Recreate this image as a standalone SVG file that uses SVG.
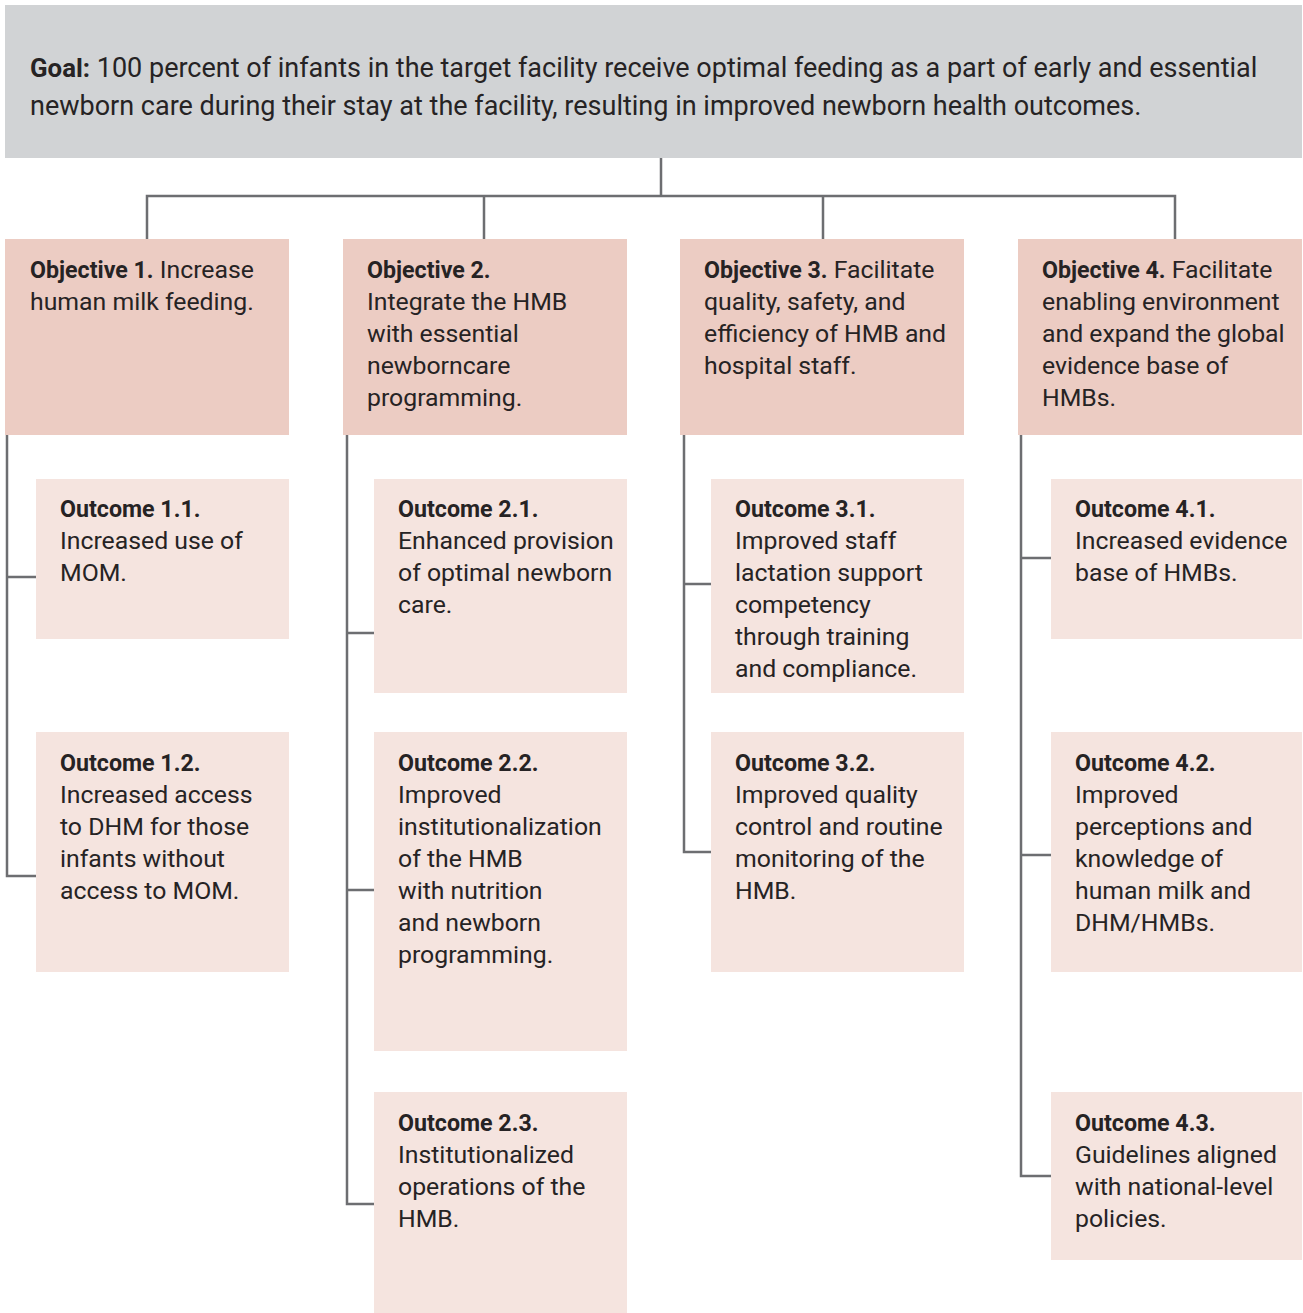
<svg xmlns="http://www.w3.org/2000/svg" width="1303" height="1313" viewBox="0 0 1303 1313">
<style>
text{font-family:Roboto,"Liberation Sans",sans-serif;fill:#262324;}
.g{font-size:27px;}
.g .b{font-size:25.8px;}
.t{font-size:24.8px;}
.t .b,.t.b{font-size:23.2px;}
.b{font-weight:700;}
.obj{fill:#ecccc3;}
.out{fill:#f5e4df;}
.goal{fill:#d1d3d5;}
.c{fill:none;stroke:#6d6e71;stroke-width:2.5;}
</style>
<rect width="1303" height="1313" fill="#fff"/>
<g id="connectors">
<path class="c" d="M661,158V196M147,239V196H1175V239M484,196V239M823,196V239"/>
<path class="c" d="M7,435V876H36M7,577H36"/>
<path class="c" d="M347,435V1204H374M347,633H374M347,890H374"/>
<path class="c" d="M684,435V852H711M684,584H711"/>
<path class="c" d="M1021,435V1176H1051M1021,558H1051M1021,855H1051"/>
</g>
<g id="goal">
<rect class="goal" x="5" y="5" width="1297" height="153"/>
<text class="g" x="30" y="77"><tspan class="b">Goal:</tspan> 100 percent of infants in the target facility receive optimal feeding as a part of early and essential</text>
<text class="g" x="30" y="115">newborn care during their stay at the facility, resulting in improved newborn health outcomes.</text>
</g>
<g id="objective1">
<rect class="obj" x="5" y="239" width="284" height="196"/>
<text class="t" x="30" y="278"><tspan class="b">Objective 1.</tspan> Increase</text>
<text class="t" x="30" y="310">human milk feeding.</text>
</g>
<g id="objective2">
<rect class="obj" x="343" y="239" width="284" height="196"/>
<text class="t" x="367" y="278"><tspan class="b">Objective 2.</tspan></text>
<text class="t" x="367" y="310">Integrate the HMB</text>
<text class="t" x="367" y="342">with essential</text>
<text class="t" x="367" y="374">newborncare</text>
<text class="t" x="367" y="406">programming.</text>
</g>
<g id="objective3">
<rect class="obj" x="680" y="239" width="284" height="196"/>
<text class="t" x="704" y="278"><tspan class="b">Objective 3.</tspan> Facilitate</text>
<text class="t" x="704" y="310">quality, safety, and</text>
<text class="t" x="704" y="342">efficiency of HMB and</text>
<text class="t" x="704" y="374">hospital staff.</text>
</g>
<g id="objective4">
<rect class="obj" x="1018" y="239" width="284" height="196"/>
<text class="t" x="1042" y="278"><tspan class="b">Objective 4.</tspan> Facilitate</text>
<text class="t" x="1042" y="310">enabling environment</text>
<text class="t" x="1042" y="342">and expand the global</text>
<text class="t" x="1042" y="374">evidence base of</text>
<text class="t" x="1042" y="406">HMBs.</text>
</g>
<g id="outcome1-1">
<rect class="out" x="36" y="479" width="253" height="160"/>
<text class="t b" x="60" y="517">Outcome 1.1.</text>
<text class="t" x="60" y="549">Increased use of</text>
<text class="t" x="60" y="581">MOM.</text>
</g>
<g id="outcome1-2">
<rect class="out" x="36" y="732" width="253" height="240"/>
<text class="t b" x="60" y="771">Outcome 1.2.</text>
<text class="t" x="60" y="803">Increased access</text>
<text class="t" x="60" y="835">to DHM for those</text>
<text class="t" x="60" y="867">infants without</text>
<text class="t" x="60" y="899">access to MOM.</text>
</g>
<g id="outcome2-1">
<rect class="out" x="374" y="479" width="253" height="214"/>
<text class="t b" x="398" y="517">Outcome 2.1.</text>
<text class="t" x="398" y="549">Enhanced provision</text>
<text class="t" x="398" y="581">of optimal newborn</text>
<text class="t" x="398" y="613">care.</text>
</g>
<g id="outcome2-2">
<rect class="out" x="374" y="732" width="253" height="319"/>
<text class="t b" x="398" y="771">Outcome 2.2.</text>
<text class="t" x="398" y="803">Improved</text>
<text class="t" x="398" y="835">institutionalization</text>
<text class="t" x="398" y="867">of the HMB</text>
<text class="t" x="398" y="899">with nutrition</text>
<text class="t" x="398" y="931">and newborn</text>
<text class="t" x="398" y="963">programming.</text>
</g>
<g id="outcome2-3">
<rect class="out" x="374" y="1092" width="253" height="221"/>
<text class="t b" x="398" y="1131">Outcome 2.3.</text>
<text class="t" x="398" y="1163">Institutionalized</text>
<text class="t" x="398" y="1195">operations of the</text>
<text class="t" x="398" y="1227">HMB.</text>
</g>
<g id="outcome3-1">
<rect class="out" x="711" y="479" width="253" height="214"/>
<text class="t b" x="735" y="517">Outcome 3.1.</text>
<text class="t" x="735" y="549">Improved staff</text>
<text class="t" x="735" y="581">lactation support</text>
<text class="t" x="735" y="613">competency</text>
<text class="t" x="735" y="645">through training</text>
<text class="t" x="735" y="677">and compliance.</text>
</g>
<g id="outcome3-2">
<rect class="out" x="711" y="732" width="253" height="240"/>
<text class="t b" x="735" y="771">Outcome 3.2.</text>
<text class="t" x="735" y="803">Improved quality</text>
<text class="t" x="735" y="835">control and routine</text>
<text class="t" x="735" y="867">monitoring of the</text>
<text class="t" x="735" y="899">HMB.</text>
</g>
<g id="outcome4-1">
<rect class="out" x="1051" y="479" width="251" height="160"/>
<text class="t b" x="1075" y="517">Outcome 4.1.</text>
<text class="t" x="1075" y="549">Increased evidence</text>
<text class="t" x="1075" y="581">base of HMBs.</text>
</g>
<g id="outcome4-2">
<rect class="out" x="1051" y="732" width="251" height="240"/>
<text class="t b" x="1075" y="771">Outcome 4.2.</text>
<text class="t" x="1075" y="803">Improved</text>
<text class="t" x="1075" y="835">perceptions and</text>
<text class="t" x="1075" y="867">knowledge of</text>
<text class="t" x="1075" y="899">human milk and</text>
<text class="t" x="1075" y="931">DHM/HMBs.</text>
</g>
<g id="outcome4-3">
<rect class="out" x="1051" y="1092" width="251" height="168"/>
<text class="t b" x="1075" y="1131">Outcome 4.3.</text>
<text class="t" x="1075" y="1163">Guidelines aligned</text>
<text class="t" x="1075" y="1195">with national-level</text>
<text class="t" x="1075" y="1227">policies.</text>
</g>
</svg>
